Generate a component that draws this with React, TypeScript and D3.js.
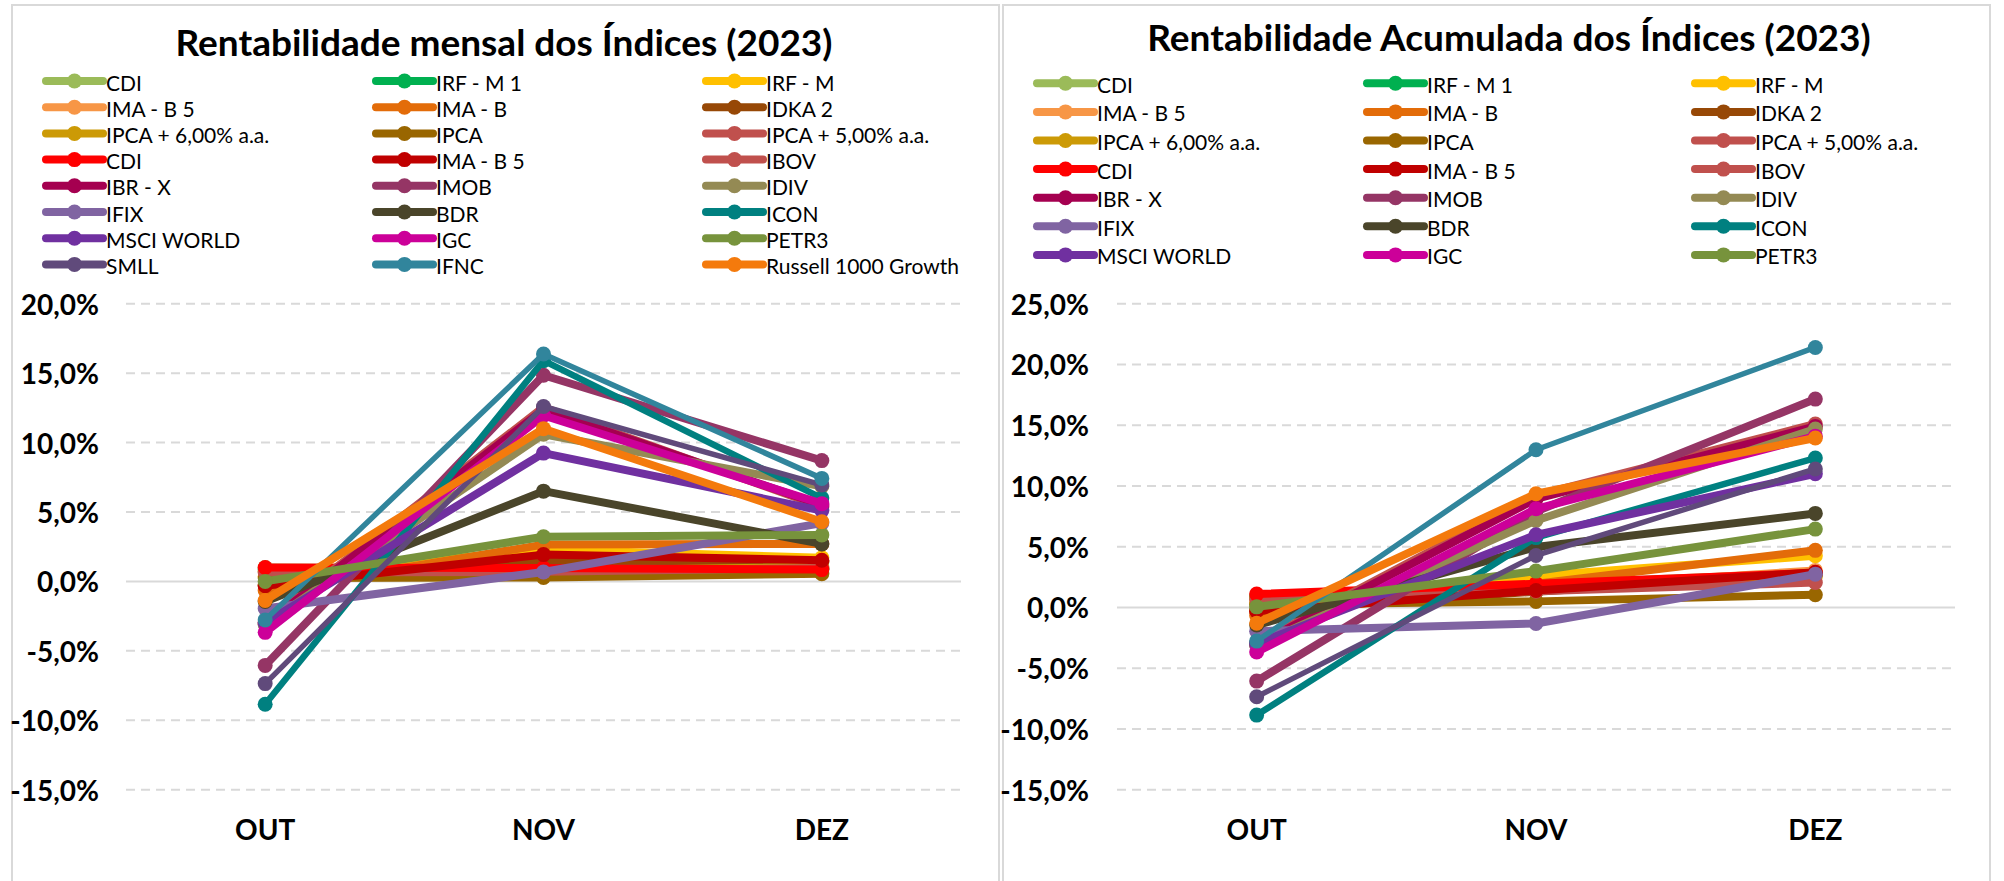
import * as d3 from 'd3'

const categories = ['OUT', 'NOV', 'DEZ']

const seriesNames = [
  'CDI', 'IRF - M 1', 'IRF - M',
  'IMA - B 5', 'IMA - B', 'IDKA 2',
  'IPCA + 6,00% a.a.', 'IPCA', 'IPCA + 5,00% a.a.',
  'CDI', 'IMA - B 5', 'IBOV',
  'IBR - X', 'IMOB', 'IDIV',
  'IFIX', 'BDR', 'ICON',
  'MSCI WORLD', 'IGC', 'PETR3',
  'SMLL', 'IFNC', 'Russell 1000 Growth',
]

const seriesColors = [
  '#9BBB59', '#00B050', '#FFC000',
  '#F79646', '#E36C09', '#974806',
  '#CC9A06', '#996600', '#C0504D',
  '#FF0000', '#C00000', '#C0504D',
  '#A50050', '#953565', '#948A54',
  '#8064A2', '#4A452A', '#008080',
  '#7030A0', '#CC0099', '#77933C',
  '#604A7B', '#31859C', '#F47A0C',
]

const seriesWidths = [
  8, 8, 8, 8, 8, 8, 8, 8, 8, 8, 8, 8,
  8, 8, 8, 8, 8, 6.5, 8, 8, 8, 5.5, 5.5, 8,
]

// monthly return (%), OUT / NOV / DEZ
const monthlyValues = [
  [1.0, 0.92, 0.89], [0.85, 1.02, 0.9], [0.37, 2.3, 1.7],
  [-0.31, 1.85, 1.46], [-0.66, 2.65, 2.7], [-0.25, 1.55, 1.4],
  [0.73, 0.77, 1.05], [0.24, 0.28, 0.56], [0.65, 0.69, 0.97],
  [1.0, 0.97, 0.85], [-0.31, 1.93, 1.52], [-2.94, 12.54, 5.38],
  [-3.07, 12.37, 5.5], [-6.05, 14.85, 8.7], [-3.1, 10.6, 6.85],
  [-1.95, 0.68, 4.2], [-1.45, 6.5, 2.7], [-8.85, 15.9, 6.0],
  [-2.98, 9.24, 5.1], [-3.67, 11.95, 5.6], [0.0, 3.22, 3.35],
  [-7.36, 12.6, 6.95], [-2.77, 16.38, 7.42], [-1.37, 11.0, 4.3],
]

// accumulated return (%), OUT / NOV / DEZ
const accumulatedValues = [
  [1.0, 1.93, 2.84], [0.85, 1.88, 2.8], [0.37, 2.6, 4.25],
  [-0.31, 1.55, 3.05], [-0.66, 1.95, 4.7], [-0.25, 1.3, 2.72],
  [0.73, 1.51, 2.57], [0.24, 0.5, 1.05], [0.65, 1.34, 2.05],
  [1.1, 1.95, 2.85], [-0.31, 1.4, 2.9], [-2.94, 9.23, 15.1],
  [-3.07, 8.93, 14.9], [-6.06, 7.9, 17.15], [-3.1, 7.16, 14.68],
  [-1.95, -1.32, 2.74], [-1.45, 4.97, 7.74], [-8.86, 5.75, 12.3],
  [-2.98, 5.98, 11.0], [-3.67, 8.12, 14.1], [0.05, 2.99, 6.45],
  [-7.35, 4.28, 11.4], [-2.77, 12.98, 21.4], [-1.3, 9.36, 13.95],
]

const monthlyTicks = [20, 15, 10, 5, 0, -5, -10, -15]
const accumulatedTicks = [25, 20, 15, 10, 5, 0, -5, -10, -15]

const FONT = 'Lato, "Open Sans", sans-serif'
const fmt = (v: number) => `${v.toFixed(1).replace('.', ',')}%`

interface PanelProps {
  left: number
  title: string
  titleX: number
  titleY: number
  values: number[][]
  ticks: number[]
  legendCount: number
  legendCols: number[]
  legendTop: number
  legendStep: number
  plotX: [number, number]
  labelX: number
}

function Panel(p: PanelProps) {
  const x = d3.scalePoint<string>().domain(categories).range(p.plotX).padding(0.5)
  const y = d3.scaleLinear()
    .domain([d3.min(p.ticks)!, d3.max(p.ticks)!])
    .range([789.7, 303.7])
  const line = d3.line<number>()
    .x((_, i) => x(categories[i])!)
    .y((d) => y(d))

  return (
    <g>
      <rect x={p.left} y={5} width={987} height={900} fill="white" stroke="#d9d9d9" strokeWidth={2} />
      <text x={p.titleX} y={p.titleY} textAnchor="middle" fontFamily={FONT}
        fontWeight={700} fontSize={37}>{p.title}</text>

      {seriesNames.slice(0, p.legendCount).map((name, i) => {
        const lx = p.legendCols[i % 3]
        const ly = p.legendTop + Math.floor(i / 3) * p.legendStep
        return (
          <g key={'lg' + i}>
            <line x1={lx} x2={lx + 57} y1={ly} y2={ly} stroke={seriesColors[i]}
              strokeWidth={8} strokeLinecap="round" />
            <circle cx={lx + 28.5} cy={ly} r={7.5} fill={seriesColors[i]} />
            <text x={lx + 60} y={ly + 1} dominantBaseline="central" fontFamily={FONT}
              fontSize={21}>{name}</text>
          </g>
        )
      })}

      {p.ticks.map((t) => (
        <g key={'t' + t}>
          <line x1={p.plotX[0]} x2={p.plotX[1]} y1={y(t)} y2={y(t)} stroke="#d9d9d9"
            strokeWidth={2} strokeDasharray={t === 0 ? undefined : '9,6'} />
          <text x={p.labelX} y={y(t)} textAnchor="end" dominantBaseline="central"
            fontFamily={FONT} fontWeight={700} fontSize={28}>{fmt(t)}</text>
        </g>
      ))}

      {categories.map((c) => (
        <text key={c} x={x(c)} y={840} textAnchor="middle" fontFamily={FONT}
          fontWeight={700} fontSize={28}>{c}</text>
      ))}

      {p.values.map((vals, i) => (
        <g key={'s' + i}>
          <path d={line(vals) ?? ''} fill="none" stroke={seriesColors[i]}
            strokeWidth={seriesWidths[i]} strokeLinejoin="round" strokeLinecap="round" />
          {vals.map((v, j) => (
            <circle key={j} cx={x(categories[j])} cy={y(v)} r={7.5} fill={seriesColors[i]} />
          ))}
        </g>
      ))}
    </g>
  )
}

export default function App() {
  return (
    <svg width={2004} height={881} style={{ position: 'absolute', left: 0, top: 0 }}>
      <rect width={2004} height={881} fill="white" />
      <Panel left={12} title="Rentabilidade mensal dos Índices (2023)" titleX={504} titleY={56}
        values={monthlyValues} ticks={monthlyTicks} legendCount={24}
        legendCols={[46, 376, 706]} legendTop={81} legendStep={26.2}
        plotX={[126, 961]} labelX={99} />
      <Panel left={1003} title="Rentabilidade Acumulada dos Índices (2023)" titleX={1509} titleY={51}
        values={accumulatedValues} ticks={accumulatedTicks} legendCount={21}
        legendCols={[1037, 1367, 1695]} legendTop={83.3} legendStep={28.6}
        plotX={[1117, 1955]} labelX={1089} />
    </svg>
  )
}
